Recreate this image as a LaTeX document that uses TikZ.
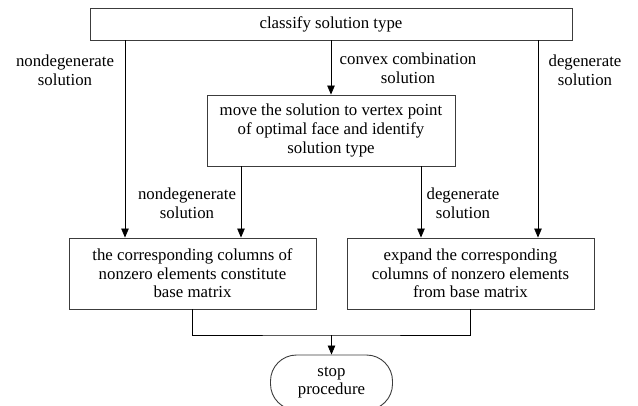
\documentclass[tikz,border=0pt]{standalone}
\usepackage{fontspec}
\setmainfont{Liberation Serif}
\usetikzlibrary{positioning, arrows.meta, calc}
\definecolor{boxline}{RGB}{60,60,60}

\begin{document}
\begin{tikzpicture}[x=1pt, y=-1pt,
    every node/.style={font=\fontsize{16.8}{18.6}\selectfont, align=center, inner sep=0pt},
    procbox/.style={draw=boxline, line width=0.9pt, minimum height=71pt},
    arr/.style={-{Triangle[length=9pt, width=7.5pt]}, line width=0.8pt},
    plain/.style={line width=0.8pt}]
            \useasboundingbox (0,0) rectangle (638,405);

            % Klassifizierung
            \node[procbox, minimum width=482pt, minimum height=32pt] (classify) at (331,24) {classify solution type};

            % Verschieben zum Eckpunkt
            \node[procbox, minimum width=248pt] (move) at (331,130.5)
                  {move the solution to vertex point\\of optimal face and identify\\solution type};

            % Ergebnisboxen
            \node[procbox, minimum width=247pt] (basis) at (192.5,273.5)
                  {the corresponding columns of\\nonzero elements constitute\\base matrix};
            \node[procbox, minimum width=247pt] (expand) at (470.5,273.5)
                  {expand the corresponding\\columns of nonzero elements\\from base matrix};

            % Ende
            \node[draw=boxline, line width=0.9pt, rounded corners=26pt, minimum width=122pt,
                  minimum height=55pt] (stop) at (331.5,382.5) {stop\\procedure};

            % Beschriftungen
            \node (lblnondeg) at (65,70.5) {nondegenerate\\solution};
            \node (lblconvex) at (408,68) {convex combination\\solution};
            \node (lbldeg) at (585,70.5) {degenerate\\solution};
            \node (lblnondegmid) at (187,203.5) {nondegenerate\\solution};
            \node (lbldegmid) at (463,203.5) {degenerate\\solution};

            % Pfeile
            \draw[arr] ([xshift=-67.5pt]basis.north |- classify.south) -- ([xshift=-67.5pt]basis.north);
            \draw[arr] ([xshift=67.5pt]expand.north |- classify.south) -- ([xshift=67.5pt]expand.north);
            \draw[arr] (classify.south -| move.north) -- (move.north);
            \draw[arr] ([xshift=-90pt]move.south) -- ([xshift=-90pt]move.south |- basis.north);
            \draw[arr] ([xshift=90pt]move.south) -- ([xshift=90pt]move.south |- expand.north);

            \coordinate (merge) at (331.5,335);
            \draw[plain] (basis.south) |- (merge) -| (expand.south);
            \draw[arr] (merge) -- (stop.north);
        \end{tikzpicture}
\end{document}
